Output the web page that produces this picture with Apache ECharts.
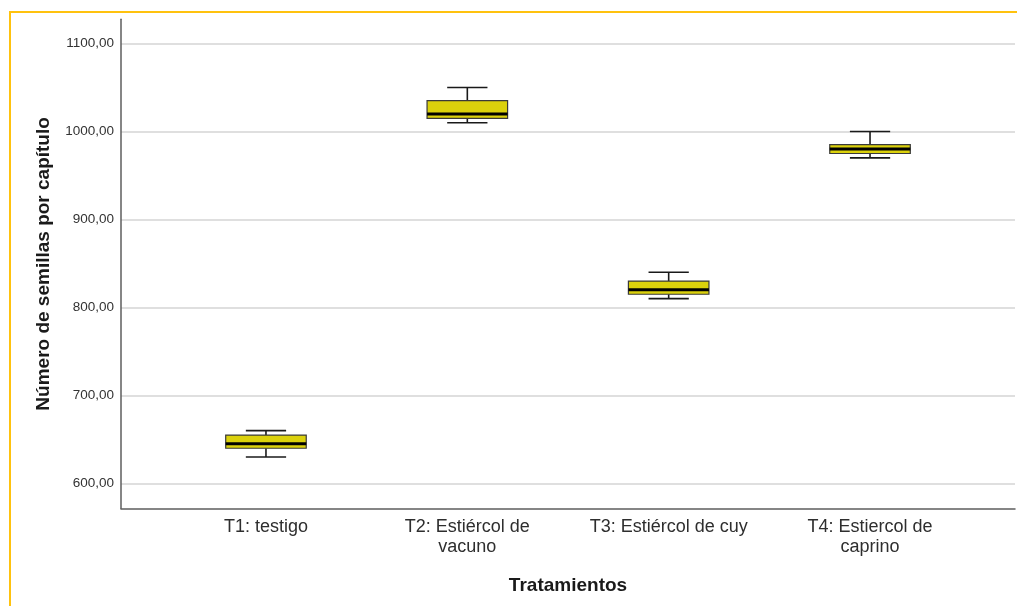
<!DOCTYPE html>
<html>
<head>
<meta charset="utf-8">
<script src="https://cdn.jsdelivr.net/npm/echarts@6/dist/echarts.min.js"></script>
<style>
  html, body { margin: 0; padding: 0; background: #ffffff; }
  #chart { width: 1017px; height: 606px; }
</style>
</head>
<body>
<div id="chart"></div>
<script>
// Treatments (x positions 1..4)
const categories = [
  'T1: testigo',
  'T2: Estiércol de\nvacuno',
  'T3: Estiércol de cuy',
  'T4: Estiercol de\ncaprino'
];

// Box summaries: [min, Q1, median, Q3, max]
const t1Values = [630, 640, 645, 655, 660];
const t2Values = [1010, 1015, 1020, 1035, 1050];
const t3Values = [810, 815, 820, 830, 840];
const t4Values = [970, 975, 980, 985, 1000];

const yTicks = [600, 700, 800, 900, 1000, 1100];
const xTicks = [1, 2, 3, 4];

const boxes = [t1Values, t2Values, t3Values, t4Values];
const seriesData = boxes.map((b, i) => [i + 1].concat(b));

const FONT = '"Liberation Sans", Arial, sans-serif';

function renderBox(params, api) {
  const x = api.value(0);
  const lo = api.value(1), q1 = api.value(2), med = api.value(3), q3 = api.value(4), hi = api.value(5);
  const boxW = api.size([0.4, 0])[0];
  const capW = api.size([0.2, 0])[0];
  const pLo = api.coord([x, lo]);
  const pQ1 = api.coord([x, q1]);
  const pMed = api.coord([x, med]);
  const pQ3 = api.coord([x, q3]);
  const pHi = api.coord([x, hi]);
  const cx = pMed[0];
  const whisker = { stroke: '#1a1a1a', lineWidth: 1.6 };
  return {
    type: 'group',
    children: [
      { type: 'line', shape: { x1: cx, y1: pLo[1], x2: cx, y2: pQ1[1] }, style: whisker },
      { type: 'line', shape: { x1: cx, y1: pQ3[1], x2: cx, y2: pHi[1] }, style: whisker },
      { type: 'line', shape: { x1: cx - capW / 2, y1: pLo[1], x2: cx + capW / 2, y2: pLo[1] }, style: whisker },
      { type: 'line', shape: { x1: cx - capW / 2, y1: pHi[1], x2: cx + capW / 2, y2: pHi[1] }, style: whisker },
      {
        type: 'rect',
        shape: { x: cx - boxW / 2, y: pQ3[1], width: boxW, height: pQ1[1] - pQ3[1] },
        style: { fill: '#dbd10c', stroke: '#3a3a3a', lineWidth: 1.2 }
      },
      { type: 'line', shape: { x1: cx - boxW / 2, y1: pMed[1], x2: cx + boxW / 2, y2: pMed[1] },
        style: { stroke: '#000000', lineWidth: 3 } }
    ]
  };
}

const chart = echarts.init(document.getElementById('chart'), null, { renderer: 'canvas' });

chart.setOption({
  animation: false,
  backgroundColor: '#ffffff',
  textStyle: { fontFamily: FONT },
  graphic: [
    {
      type: 'rect',
      shape: { x: 10, y: 12, width: 1200, height: 800 },
      style: { fill: 'none', stroke: '#ffc20e', lineWidth: 2 },
      silent: true,
      z: 100
    }
  ],
  grid: { left: 121, right: 2, top: 19.3, bottom: 97.5, containLabel: false },
  xAxis: {
    type: 'value',
    min: 0.28,
    max: 4.72,
    name: 'Tratamientos',
    nameLocation: 'middle',
    nameGap: 68,
    nameTextStyle: { fontFamily: FONT, fontSize: 19, fontWeight: 'bold', color: '#1a1a1a' },
    axisLine: { show: true, lineStyle: { color: '#5e5e5e', width: 1.5 } },
    axisTick: { show: false, customValues: xTicks },
    splitLine: { show: false },
    axisLabel: {
      customValues: xTicks,
      formatter: v => categories[Math.round(v) - 1] || '',
      fontFamily: FONT,
      fontSize: 18,
      color: '#2e2e2e',
      lineHeight: 20,
      margin: 9
    }
  },
  yAxis: {
    type: 'value',
    min: 571.5,
    max: 1127.5,
    name: 'Número de semillas por capítulo',
    nameLocation: 'middle',
    nameGap: 68,
    nameTextStyle: { fontFamily: FONT, fontSize: 19, fontWeight: 'bold', color: '#1a1a1a' },
    axisLine: { show: true, lineStyle: { color: '#5e5e5e', width: 1.5 } },
    axisTick: { show: false, customValues: yTicks },
    splitLine: { show: true, lineStyle: { color: '#d4d4d4', width: 1.5 } },
    axisLabel: {
      customValues: yTicks,
      formatter: v => v.toFixed(2).replace('.', ','),
      fontFamily: FONT,
      fontSize: 13.5,
      color: '#333333',
      margin: 7
    }
  },
  series: [
    {
      type: 'custom',
      renderItem: renderBox,
      data: seriesData,
      encode: { x: 0, y: [1, 2, 3, 4, 5] },
      z: 5
    }
  ]
});
</script>
</body>
</html>
